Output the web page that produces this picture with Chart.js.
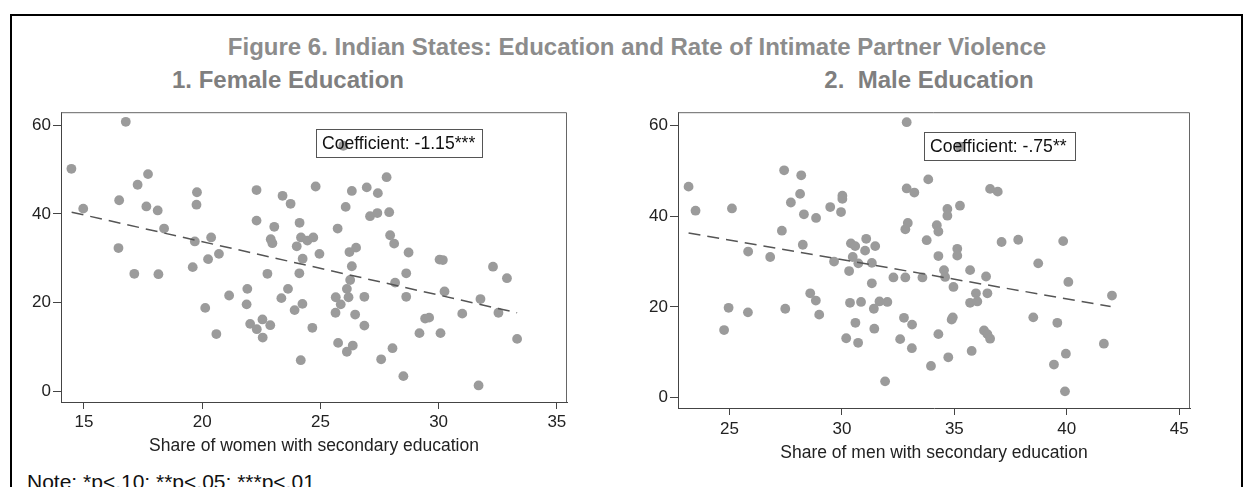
<!DOCTYPE html>
<html>
<head>
<meta charset="utf-8">
<script src="https://cdn.jsdelivr.net/npm/chart.js@4.4.1/dist/chart.umd.min.js"></script>
<style>
  html, body { margin: 0; padding: 0; background: #fff; }
  body { width: 1249px; height: 487px; overflow: hidden; position: relative; font-family: "Liberation Sans", Arial, sans-serif; }
  .frame { position: absolute; left: 10px; top: 14px; width: 1233px; height: 500px; border: 2px solid #000; box-sizing: border-box; }
  .ctext { position: absolute; transform: translateX(-50%); white-space: pre; }
  .title { top: 33px; left: 637px; font-size: 24px; font-weight: bold; color: #8c8c8c; line-height: 28px; }
  .sub { top: 66px; font-size: 24px; font-weight: bold; color: #7f7f7f; line-height: 28px; }
  .coef { position: absolute; border: 1px solid #555; box-sizing: border-box; font-size: 17.6px; color: #111; line-height: 27px; padding-left: 5px; white-space: pre; }
  .note { position: absolute; left: 27px; top: 470px; font-size: 21px; color: #111; line-height: 24px; white-space: pre; }
  .cv { position: absolute; }
</style>
</head>
<body>
<div class="frame"></div>
<div class="ctext title">Figure 6. Indian States: Education and Rate of Intimate Partner Violence</div>
<div class="ctext sub" style="left:288px">1. Female Education</div>
<div class="ctext sub" style="left:929px">2.  Male Education</div>

<canvas id="c1" class="cv" width="600" height="360" style="left:0px;top:100px;width:600px;height:360px"></canvas>
<canvas id="c2" class="cv" width="600" height="365" style="left:620px;top:100px;width:600px;height:365px"></canvas>

<div class="coef" style="left:316px;top:129px;width:167px;height:29px">Coefficient: -1.15***</div>
<div class="coef" style="left:924px;top:132px;width:152px;height:29px">Coefficient: -.75**</div>

<div class="note">Note: *p&lt;.10; **p&lt;.05; ***p&lt;.01</div>

<script>
// ---- Panel 1: Female education ----
const femaleShare = [14.47,14.97,16.46,16.49,16.77,17.13,17.27,17.64,17.71,18.12,18.15,18.39,19.60,19.69,19.76,19.78,20.13,20.25,20.38,20.60,20.71,21.14,21.88,21.91,22.03,22.30,22.30,22.31,22.55,22.56,22.76,22.88,22.90,22.97,23.05,23.35,23.40,23.63,23.74,23.91,24.00,24.11,24.12,24.17,24.18,24.24,24.25,24.45,24.66,24.70,24.80,24.96,25.64,25.65,25.73,25.75,25.86,25.97,26.07,26.12,26.12,26.19,26.23,26.26,26.33,26.33,26.37,26.47,26.51,26.86,26.86,26.96,27.10,27.41,27.43,27.57,27.80,27.91,27.95,28.05,28.12,28.16,28.51,28.63,28.63,28.73,29.19,29.43,29.60,30.04,30.08,30.18,30.25,31.00,31.69,31.77,32.30,32.53,32.89,33.32];
const femaleIPV   = [50.2,41.2,32.3,43.1,60.8,26.5,46.6,41.7,49.0,40.8,26.4,36.7,28.0,33.8,42.1,44.9,18.8,29.8,34.7,12.9,31.0,21.6,19.6,23.1,15.2,45.4,38.5,14.0,16.2,12.1,26.5,14.9,34.3,33.4,37.1,21.0,44.1,23.1,42.3,18.3,32.7,26.6,38.0,7.0,34.7,19.7,29.9,34.0,14.3,34.7,46.2,31.0,17.7,21.2,36.7,10.9,19.6,55.4,41.6,8.9,23.1,21.2,31.4,25.1,45.2,28.2,10.3,17.3,32.4,21.3,14.8,46.0,39.5,40.2,44.7,7.2,48.3,40.4,35.2,9.7,33.3,24.5,3.4,21.3,26.6,31.3,13.1,16.4,16.6,29.7,13.1,29.6,22.5,17.5,1.3,20.8,28.1,17.7,25.5,11.8];
const femaleFitX = [14.48, 33.32];
const femaleFitY = [40.4, 17.7];
const femaleXTicks = [15, 20, 25, 30, 35];
const femaleYTicks = [0, 20, 40, 60];

// ---- Panel 2: Male education ----
const maleShare = [23.18,23.49,24.76,24.96,25.11,25.82,25.83,26.81,27.33,27.43,27.48,27.73,28.14,28.19,28.26,28.31,28.59,28.84,28.85,28.99,29.48,29.65,29.96,30.02,30.02,30.19,30.32,30.36,30.40,30.48,30.59,30.60,30.72,30.73,30.85,31.03,31.08,31.33,31.33,31.42,31.44,31.48,31.67,31.92,32.02,32.29,32.59,32.76,32.82,32.82,32.88,32.88,32.93,33.11,33.12,33.22,33.58,33.77,33.84,33.96,34.22,34.29,34.29,34.29,34.54,34.59,34.69,34.69,34.73,34.88,34.93,34.96,35.13,35.13,35.25,35.25,35.70,35.70,35.77,35.96,36.02,36.32,36.41,36.47,36.47,36.59,36.59,36.93,37.10,37.84,38.51,38.73,39.43,39.58,39.84,39.92,39.96,40.07,41.65,42.01];
const maleIPV   = [46.5,41.2,14.9,19.8,41.7,18.8,32.2,31.0,36.8,50.1,19.6,43.0,44.9,49.0,33.7,40.4,23.0,21.4,39.6,18.3,42.0,30.0,40.9,44.5,43.8,13.1,27.9,20.9,34.0,31.0,33.4,16.5,12.1,29.6,21.1,32.4,35.0,29.7,25.2,19.6,15.2,33.4,21.2,3.6,21.1,26.5,12.9,17.6,26.5,37.1,60.7,46.1,38.5,10.9,16.1,45.2,26.5,34.7,48.1,7.0,38.0,36.6,31.2,14.0,28.1,26.6,41.6,40.1,8.9,17.2,17.7,24.4,32.8,31.3,42.3,55.3,28.1,20.9,10.3,23.0,21.2,14.8,26.7,23.0,14.0,46.0,13.0,45.4,34.3,34.8,17.7,29.6,7.3,16.5,34.5,1.4,9.7,25.5,11.9,22.5];
const maleFitX = [23.18, 41.95];
const maleFitY = [36.3, 20.1];
const maleXTicks = [25, 30, 35, 40, 45];
const maleYTicks = [0, 20, 40, 60];

const FONT = "'Liberation Sans', Arial, sans-serif";

const boxPlugin = {
  id: 'plotBox',
  afterDraw(chart) {
    const a = chart.chartArea, ctx = chart.ctx;
    ctx.save();
    ctx.strokeStyle = '#666';
    ctx.lineWidth = 1;
    ctx.beginPath();
    ctx.moveTo(a.left, a.top + 0.5);
    ctx.lineTo(a.right - 0.5, a.top + 0.5);
    ctx.lineTo(a.right - 0.5, a.bottom);
    ctx.stroke();
    ctx.restore();
  }
};

function makeChart(id, xs, ys, fitX, fitY, xTicks, yTicks, xr, yr, xTitle, cfg) {
  const pts = xs.map((x, i) => ({x: x, y: ys[i]}));
  const fit = fitX.map((x, i) => ({x: x, y: fitY[i]}));
  return new Chart(document.getElementById(id), {
    type: 'scatter',
    data: {
      datasets: [
        { type: 'line', data: fit, borderColor: '#555', borderWidth: 1.5, borderDash: [12, 7],
          pointRadius: 0, fill: false, order: 0, showLine: true },
        { data: pts, backgroundColor: '#9b9b9b', borderWidth: 0, pointRadius: 4.9, pointHoverRadius: 4.9, order: 1 }
      ]
    },
    options: {
      responsive: false, animation: false, devicePixelRatio: 1,
      layout: { padding: { top: cfg.padTop, right: cfg.padRight, left: 0, bottom: 0 } },
      plugins: { legend: { display: false }, tooltip: { enabled: false } },
      scales: {
        x: {
          type: 'linear', min: xr[0], max: xr[1],
          afterBuildTicks: s => { s.ticks = xTicks.map(v => ({value: v})); },
          afterFit: s => { s.height = cfg.xH; },
          grid: { display: true, drawOnChartArea: false, drawTicks: true, tickLength: 7, color: '#444', lineWidth: 1 },
          border: { display: true, color: '#444', width: 1 },
          ticks: { color: '#222', font: { family: FONT, size: 17 }, padding: cfg.xPad, maxRotation: 0, autoSkip: false },
          title: { display: true, text: xTitle, color: '#222', font: { family: FONT, size: 17.5 }, padding: { top: 0, bottom: cfg.titlePad } }
        },
        y: {
          type: 'linear', min: yr[0], max: yr[1],
          afterBuildTicks: s => { s.ticks = yTicks.map(v => ({value: v})); },
          afterFit: s => { s.width = cfg.yW; },
          grid: { display: true, drawOnChartArea: false, drawTicks: true, tickLength: 8, color: '#444', lineWidth: 1 },
          border: { display: true, color: '#444', width: 1 },
          ticks: { color: '#222', font: { family: FONT, size: 17 }, padding: 2, autoSkip: false }
        }
      }
    },
    plugins: [boxPlugin]
  });
}

makeChart('c1', femaleShare, femaleIPV, femaleFitX, femaleFitY, femaleXTicks, femaleYTicks,
  [14.03, 35.43], [-2.44, 62.97], 'Share of women with secondary education',
  { padTop: 7, padRight: 33, xH: 58, yW: 61, xPad: 3, titlePad: 3 });

makeChart('c2', maleShare, maleIPV, maleFitX, maleFitY, maleXTicks, maleYTicks,
  [22.71, 45.48], [-2.27, 62.9], 'Share of men with secondary education',
  { padTop: 9, padRight: 30, xH: 57, yW: 58, xPad: 4, titlePad: 1 });
</script>
</body>
</html>
